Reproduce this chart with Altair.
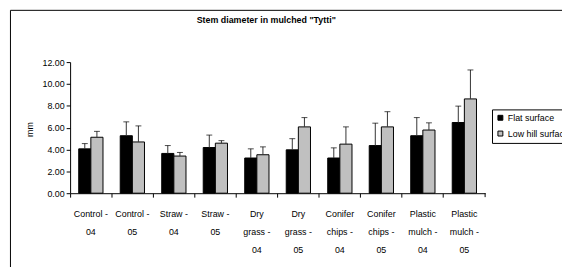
import altair as alt
import pandas as pd

categories = ["Control -|04", "Control -|05", "Straw -|04", "Straw -|05",
              "Dry|grass -|04", "Dry|grass -|05", "Conifer|chips -|04",
              "Conifer|chips -|05", "Plastic|mulch -|04", "Plastic|mulch -|05"]
series = ["Flat surface", "Low hill surface"]
flat_mean = [4.06, 5.26, 3.64, 4.18, 3.22, 3.97, 3.22, 4.36, 5.26, 6.47]
flat_err = [0.48, 1.27, 0.72, 1.14, 0.84, 1.02, 0.93, 2.05, 1.66, 1.50]
low_mean = [5.12, 4.69, 3.40, 4.58, 3.52, 6.07, 4.49, 6.07, 5.78, 8.63]
low_err = [0.54, 1.47, 0.33, 0.23, 0.72, 0.85, 1.58, 1.39, 0.66, 2.65]
y_ticks = [0, 2, 4, 6, 8, 10, 12]

rows = []
for i, c in enumerate(categories):
    rows.append({"cat": c, "series": series[0], "mean": flat_mean[i], "hi": flat_mean[i] + flat_err[i]})
    rows.append({"cat": c, "series": series[1], "mean": low_mean[i], "hi": low_mean[i] + low_err[i]})
df = pd.DataFrame(rows)

FONT = "Liberation Sans"

x_axis = alt.Axis(labelExpr="split(datum.label, '|')", labelAngle=0,
                  labelLineHeight=18, labelPadding=13, labelBaseline="top",
                  bandPosition=0, tickSize=4, tickColor="black",
                  domainColor="black", labelFontSize=9, labelColor="black",
                  labelFont=FONT, labelOverlap=False, title=None)
y_axis = alt.Axis(values=y_ticks, format=".2f", tickSize=4, tickColor="black",
                  domainColor="black", labelFontSize=9, labelColor="black",
                  labelFont=FONT, labelPadding=2, grid=False, labelOverlap=False,
                  title="mm", titleFont=FONT, titleFontSize=9, titleFontWeight="normal",
                  titleColor="black", titleX=-41, titleY=68,
                  titleAngle=270, titleAlign="center", titleBaseline="middle")
x_scale = alt.Scale(paddingInner=0, paddingOuter=0)
y_scale = alt.Scale(domain=[0, 12], nice=False)

x_enc = alt.X("cat:N", sort=categories, scale=x_scale, axis=x_axis)
xo_enc = alt.XOffset("series:N", sort=series,
                     scale=alt.Scale(paddingInner=0, paddingOuter=0.71))

bars = alt.Chart(df).mark_bar(stroke="black", strokeWidth=1).encode(
    x=x_enc,
    xOffset=xo_enc,
    y=alt.Y("mean:Q", scale=y_scale, axis=y_axis),
    color=alt.Color("series:N", sort=series,
                    scale=alt.Scale(domain=series, range=["#000000", "#c0c0c0"]),
                    legend=alt.Legend(title=None, orient="none", legendX=428, legendY=48,
                                      symbolType="square", symbolSize=25,
                                      symbolStrokeColor="black", symbolStrokeWidth=1,
                                      labelFont=FONT, labelFontSize=9, labelColor="black",
                                      strokeColor="black", fillColor="white",
                                      padding=4, rowPadding=6, labelOffset=3)),
)

err = alt.Chart(df).mark_rule(color="#333333", strokeWidth=1).encode(
    x=x_enc, xOffset=xo_enc,
    y=alt.Y("mean:Q", scale=y_scale, axis=y_axis), y2="hi:Q")

caps = alt.Chart(df).mark_tick(color="black", size=6, thickness=1).encode(
    x=x_enc, xOffset=xo_enc,
    y=alt.Y("hi:Q", scale=y_scale, axis=y_axis))

one = pd.DataFrame({"a": [0]})
end_tick = alt.Chart(one).mark_rule(color="black").encode(
    x=alt.value(421), y=alt.value(133), y2=alt.value(137))

frame = alt.Chart(one).mark_rect(fillOpacity=0, stroke="black", strokeWidth=1).encode(
    x=alt.value(-60.5), x2=alt.value(700), y=alt.value(-52.5), y2=alt.value(400))

title = alt.Chart(one).mark_text(text='Stem diameter in mulched "Tytti"', font=FONT,
                                 fontSize=9, fontWeight="bold", color="black",
                                 align="center", baseline="middle").encode(
    x=alt.value(199), y=alt.value(-43))

chart = alt.layer(frame, bars, err, caps, end_tick, title).properties(
    width=421, height=133,
    padding={"left": 63, "top": 53, "right": 78, "bottom": 73},
    autosize=alt.AutoSizeParams(type="none"),
).configure_view(stroke=None).configure_axisY(labelOverlap=False)

chart.save("out.html", embed_options={"renderer": "svg", "actions": False})
